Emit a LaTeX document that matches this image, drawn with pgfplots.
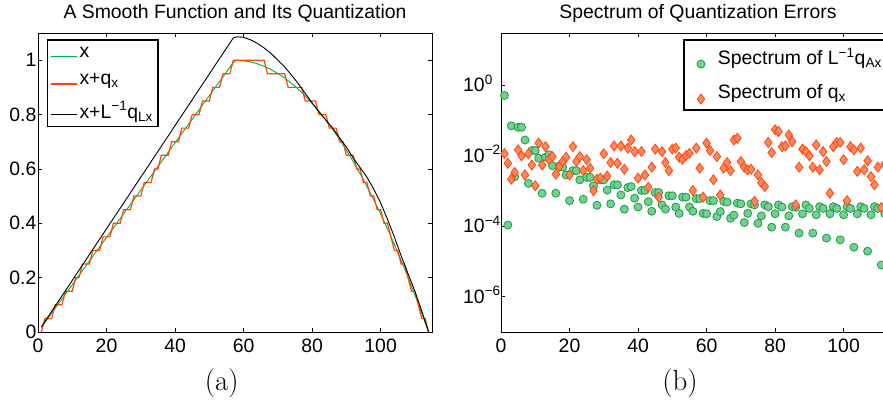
\documentclass[border=0pt]{standalone}
\usepackage{pgfplots}
\pgfplotsset{compat=1.18}
\usepackage{fontspec}
\setsansfont{Liberation Sans}
\definecolor{lgreen}{RGB}{0,175,60}
\definecolor{lred}{RGB}{255,69,0}
\definecolor{cfill}{RGB}{120,205,145}
\definecolor{cedge}{RGB}{20,160,70}
\definecolor{dfill}{RGB}{255,135,95}
\definecolor{dedge}{RGB}{255,70,10}
\newcommand\fs{\fontsize{19.4}{23}\selectfont}
\begin{document}
\begin{tikzpicture}
\pgfplotsset{every axis/.append style={
  scale only axis, width=394pt, height=299pt, anchor=south west,
  font=\sffamily\fs,
  tick align=inside, major tick length=4pt,
  axis line style={line width=0.8pt},
  tick style={black, line width=0.6pt},
  /pgf/number format/assume math mode=true,
  xmin=0, xmax=115, xtick={0,20,...,100},
  xticklabel style={inner sep=0pt, yshift=-7pt},
  legend cell align=left,
},
every axis title/.style={at={(0.5,1)},anchor=base,yshift=14.7pt,inner sep=0pt,font=\sffamily\fs},
}
% ---------- (a) ----------
\begin{axis}[at={(38pt,71pt)},
  ymin=0, ymax=1.1, ytick={0,0.2,...,1},
  yticklabel style={inner xsep=1.5pt},
  title={A Smooth Function and Its Quantization},
  legend style={at={(0.022,0.979)},anchor=north west, draw=black, line width=1.3pt,
    inner xsep=3pt, inner ysep=5pt, row sep=11pt, font=\sffamily\fs},
  legend image code/.code={\draw[#1] (0pt,-4pt) -- (26pt,-4pt);},
]
\addplot[lgreen, line width=0.9pt] coordinates {
(1,0.0174)(57,0.9913)(58,1.0000)(60,0.9980)(62,0.9937)(64,0.9868)(66,0.9774)(68,0.9655)
(70,0.9511)(72,0.9341)(74,0.9147)(76,0.8928)(78,0.8684)(80,0.8414)(82,0.8120)(84,0.7800)
(86,0.7456)(88,0.7086)(90,0.6691)(92,0.6271)(94,0.5827)(96,0.5357)(98,0.4862)(100,0.4342)
(102,0.3797)(104,0.3227)(106,0.2631)(108,0.2011)(110,0.1366)(112,0.0695)(114,0)};
\addlegendentry{x}
\addplot[lred, line width=1.2pt] coordinates {
(1,0)(2,0.05)(4,0.05)(5,0.1)(7,0.1)(8,0.15)(10,0.15)(11,0.2)(12,0.2)(13,0.25)(15,0.25)
(16,0.3)(18,0.3)(19,0.35)(21,0.35)(22,0.4)(24,0.4)(25,0.45)(27,0.45)(28,0.5)(30,0.5)
(31,0.55)(33,0.55)(34,0.6)(35,0.6)(36,0.65)(38,0.65)(39,0.7)(41,0.7)(42,0.75)(44,0.75)
(45,0.8)(47,0.8)(48,0.85)(50,0.85)(51,0.9)(53,0.9)(54,0.95)(56,0.95)(57,1)(66,1)
(67,0.95)(72,0.95)(73,0.9)(77,0.9)(78,0.85)(81,0.85)(82,0.8)(84,0.8)(85,0.75)(87,0.75)
(88,0.7)(89,0.7)(90,0.65)(92,0.65)(93,0.6)(94,0.6)(95,0.55)(96,0.55)(97,0.5)(98,0.5)
(99,0.45)(100,0.45)(101,0.4)(102,0.4)(103,0.35)(104,0.3)(105,0.3)(106,0.25)(107,0.25)
(108,0.2)(109,0.15)(110,0.15)(111,0.1)(112,0.05)(113,0.05)(114,0)};
\addlegendentry{x+q\textsubscript{x}}
\addplot[black, line width=0.9pt] coordinates {
(1,0.019)(57,1.082)(58,1.086)(60,1.084)(62,1.075)(64,1.062)(66,1.045)(68,1.025)(70,1.0)
(72,0.975)(74,0.945)(76,0.913)(78,0.878)(80,0.843)(82,0.81)(84,0.78)(86,0.75)(88,0.715)
(90,0.68)(92,0.64)(94,0.605)(96,0.57)(98,0.525)(100,0.475)(102,0.415)(104,0.35)
(106,0.28)(108,0.215)(110,0.15)(112,0.078)(114,0)};
\addlegendentry{x+L\textsuperscript{−1}q\textsubscript{Lx}}
\end{axis}
% ---------- (b) ----------
\begin{axis}[at={(501pt,71pt)},
  ymin=-7, ymax=1.47, ytick={-6,-4,-2,0},
  yticklabels={10\textsuperscript{−6},10\textsuperscript{−4},10\textsuperscript{−2},10\textsuperscript{0}},
  yticklabel style={anchor=base west, xshift=-38pt, yshift=-6.8pt, inner sep=0pt},
  title={Spectrum of Quantization Errors},
  legend style={at={(0.4627,0.979)},anchor=north west, draw=black, line width=1.3pt,
    inner xsep=2pt, inner ysep=6pt, row sep=14pt, font=\sffamily\fs},
  legend image code/.code={\path[draw=none] (-15pt,0pt) -- (15pt,0pt);\draw[#1] plot coordinates {(0pt,-7pt)};},
]
\addplot[only marks, mark=*, mark size=4pt, mark options={fill=cfill, draw=cedge, line width=0.8pt}] coordinates {
(1,-0.30)(2,-3.97)(3,-1.16)(4,-2.60)(5,-1.20)(6,-1.20)(7,-1.56)(8,-2.79)(9,-1.86)(10,-1.86)
(11,-2.08)(12,-3.07)(13,-2.05)(14,-1.98)(15,-2.29)(16,-3.07)(17,-2.30)(18,-2.33)(19,-2.55)(20,-3.28)
(21,-2.43)(22,-2.43)(23,-2.69)(24,-3.24)(25,-2.62)(26,-2.62)(27,-2.86)(28,-3.41)(29,-2.69)(30,-2.69)
(31,-2.98)(32,-3.37)(33,-2.83)(34,-2.83)(35,-3.12)(36,-3.52)(37,-2.91)(38,-2.88)(39,-3.21)(40,-3.46)
(41,-2.99)(42,-2.99)(43,-3.31)(44,-3.58)(45,-3.05)(46,-3.05)(47,-3.40)(48,-3.52)(49,-3.14)(50,-3.14)
(51,-3.46)(52,-3.64)(53,-3.18)(54,-3.18)(55,-3.46)(56,-3.58)(57,-3.22)(58,-3.22)(59,-3.64)(60,-3.65)
(61,-3.28)(62,-3.28)(63,-3.73)(64,-3.59)(65,-3.30)(66,-3.32)(67,-3.78)(68,-3.69)(69,-3.35)(70,-3.37)
(71,-3.90)(72,-3.64)(73,-3.37)(74,-3.40)(75,-3.92)(76,-3.71)(77,-3.40)(78,-3.45)(79,-4.03)(80,-3.65)
(81,-3.40)(82,-3.46)(83,-4.03)(84,-3.71)(85,-3.45)(86,-3.47)(87,-4.20)(88,-3.65)(89,-3.40)(90,-3.50)
(91,-4.20)(92,-3.68)(93,-3.45)(94,-3.50)(95,-4.34)(96,-3.65)(97,-3.45)(98,-3.50)(99,-4.39)(100,-3.68)
(101,-3.45)(102,-3.50)(103,-4.60)(104,-3.65)(105,-3.45)(106,-3.50)(107,-4.71)(108,-3.68)(109,-3.45)(110,-3.50)
(111,-5.10)(112,-3.65)(113,-3.45)(114,-3.50)};
\addlegendentry{Spectrum of L\textsuperscript{−1}q\textsubscript{Ax}}
\addplot[only marks, mark=diamond*, mark size=5pt, mark options={fill=dfill, draw=dedge, line width=0.8pt}] coordinates {
(1,-1.95)(2,-2.22)(3,-2.67)(4,-2.48)(5,-1.84)(6,-2.01)(7,-2.55)(8,-1.95)(9,-2.27)(10,-2.86)
(11,-1.65)(12,-2.27)(13,-1.75)(14,-2.11)(15,-2.03)(16,-2.53)(17,-2.31)(18,-2.17)(19,-2.05)(20,-2.55)
(21,-1.75)(22,-2.17)(23,-2.03)(24,-2.43)(25,-2.12)(26,-2.36)(27,-3.00)(28,-2.67)(29,-2.64)(30,-1.95)
(31,-2.58)(32,-2.20)(33,-1.73)(34,-2.22)(35,-1.73)(36,-2.39)(37,-1.79)(38,-1.56)(39,-1.89)(40,-2.64)
(41,-1.89)(42,-2.55)(43,-2.90)(44,-2.33)(45,-1.82)(46,-3.18)(47,-1.89)(48,-2.20)(49,-2.43)(50,-1.82)
(51,-1.79)(52,-2.05)(53,-2.11)(54,-2.00)(55,-1.94)(56,-2.99)(57,-1.79)(58,-2.36)(59,-3.18)(60,-1.65)
(61,-1.86)(62,-2.69)(63,-2.03)(64,-3.12)(65,-2.36)(66,-2.20)(67,-2.43)(68,-1.56)(69,-1.51)(70,-2.17)
(71,-2.33)(72,-2.41)(73,-2.39)(74,-3.30)(75,-2.55)(76,-2.77)(77,-2.88)(78,-1.63)(79,-1.92)(80,-1.27)
(81,-1.32)(82,-1.75)(83,-1.73)(84,-1.42)(85,-1.61)(86,-3.40)(87,-2.33)(88,-1.82)(89,-1.89)(90,-2.01)
(91,-2.33)(92,-1.70)(93,-2.41)(94,-1.89)(95,-2.17)(96,-3.07)(97,-1.75)(98,-1.63)(99,-1.63)(100,-2.12)
(101,-3.28)(102,-1.75)(103,-1.84)(104,-2.45)(105,-1.79)(106,-2.40)(107,-2.15)(108,-2.60)(109,-2.83)(110,-2.33)
(111,-3.47)(112,-2.24)(113,-2.00)(114,-2.30)};
\addlegendentry{Spectrum of q\textsubscript{x}}
\end{axis}
\node[font=\rmfamily\fontsize{29}{32}\selectfont] at (221.7pt,20pt) {(a)};
\node[font=\rmfamily\fontsize{29}{32}\selectfont] at (680pt,20pt) {(b)};
\pgfresetboundingbox
\useasboundingbox (0,0) rectangle (883pt,403pt);
\end{tikzpicture}
\end{document}
